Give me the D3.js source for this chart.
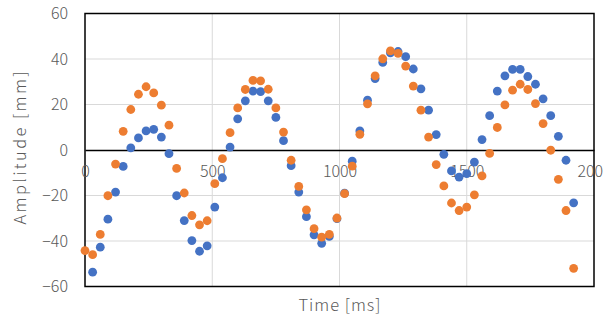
<!DOCTYPE html>
<html><head><meta charset="utf-8">
<script src="https://cdn.jsdelivr.net/npm/d3@7"></script>
<style>body{margin:0;background:#fff}svg{display:block}</style>
</head><body>
<script>
// Data
const timeStep = 30; // ms between samples
const seriesA = [null,-53.7,-42.7,-30.4,-18.5,-7.2,0.9,5.3,8.4,9.1,5.7,-1.6,-20.1,-31,-39.8,-44.5,-42.1,
 -25.1,-12.2,1.3,13.7,21.6,25.9,25.7,21.6,14.3,4.1,-6.9,-18.5,-29.3,-37.3,-41,-38.0,-30.2,-19.0,-4.9,
 8.4,21.9,31.4,38.5,42.7,43.3,41,35.6,26.9,17.5,6.8,-1.9,-9.2,-11.9,-10.4,-5.3,4.6,15.1,25.9,32.6,35.4,35.4,
 32.3,28.9,22.5,15.1,6.0,-4.5,-23.2];
const seriesB = [-44.2,-46,-37.1,-20.1,-6.2,8.2,17.8,24.5,27.8,25.1,19.7,10.9,-8.1,-18.9,-28.8,-32.9,-31.1,
 -14.8,-3.8,7.6,18.5,26.6,30.6,30.4,26.7,18.5,7.9,-4.5,-16,-26.3,-34.6,-38.3,-37.1,-29.9,-19.2,-7.1,
 6.9,20.3,32.6,40.1,43.6,42.5,36.9,28.1,17.5,5.7,-6.4,-15.8,-23.3,-26.6,-25.1,-19.7,-11.4,-1.5,9.9,19.8,26.3,28.9,
 26.6,20.4,11.6,-0.1,-12.9,-26.6,-52];
const xTicks = [0,500,1000,1500,2000];
const yTicks = [-60,-40,-20,0,20,40,60];
const seriesColors = ["#4472C4","#ED7D31"];
const xTitle = "Time [ms]", yTitle = "Amplitude [mm]";

const W = 615, H = 321;
const L = 85, R = 594, T = 13.5, B = 286.5;
const x = d3.scaleLinear().domain([0,2000]).range([L,R]);
const y = d3.scaleLinear().domain([-60,60]).range([B,T]);
const font = "'Noto Sans CJK JP','Noto Sans',sans-serif";
const textColor = "#595959";

const svg = d3.select("body").append("svg").attr("width",W).attr("height",H);
svg.append("defs").append("clipPath").attr("id","chartClip")
 .append("rect").attr("x",0).attr("y",0).attr("width",603).attr("height",H);

// gridlines
svg.append("g").selectAll("line").data(yTicks.filter(v=>v!==0&&Math.abs(v)!==60)).join("line")
 .attr("x1",L).attr("x2",R).attr("y1",d=>y(d)).attr("y2",d=>y(d))
 .attr("stroke","#d9d9d9").attr("stroke-width",1);
svg.append("g").selectAll("line").data(xTicks.filter(v=>v!==0&&v!==2000)).join("line")
 .attr("y1",T).attr("y2",B).attr("x1",d=>x(d)).attr("x2",d=>x(d))
 .attr("stroke","#d9d9d9").attr("stroke-width",1);

// border
svg.append("rect").attr("x",L).attr("y",T).attr("width",R-L).attr("height",B-T)
 .attr("fill","none").attr("stroke","#000").attr("stroke-width",1.5);

// zero axis
const xAxis = d3.axisBottom(x).tickValues(xTicks).tickFormat(d3.format("d")).tickSize(0).tickPadding(0);
const gx = svg.append("g").attr("clip-path","url(#chartClip)")
 .append("g").attr("transform",`translate(0,${y(0)})`).call(xAxis);
gx.select(".domain").attr("stroke","#000").attr("stroke-width",1.5);
gx.selectAll("text").attr("dy",null).attr("y",27).attr("fill",textColor)
 .style("font-family",font).style("font-size","16px").style("font-weight",300);

const yAxis = d3.axisLeft(y).tickValues(yTicks).tickSize(0).tickPadding(17);
const gy = svg.append("g").attr("transform",`translate(${L},0)`).call(yAxis);
gy.select(".domain").remove();
gy.selectAll("text").attr("fill",textColor).style("font-family",font)
 .style("font-size","16px").style("font-weight",300);

// points
[seriesA, seriesB].forEach((s,k)=>{
  svg.append("g").selectAll("circle")
   .data(s.map((v,i)=>({t:i*timeStep,v})).filter(d=>d.v!==null)).join("circle")
   .attr("cx",d=>x(d.t)).attr("cy",d=>y(d.v)).attr("r",4.4)
   .attr("fill",seriesColors[k]);
});

// titles
svg.append("text").attr("x",(L+R)/2).attr("y",310.5).attr("text-anchor","middle")
 .attr("textLength",82).attr("lengthAdjust","spacing")
 .attr("fill",textColor).style("font-family",font).style("font-size","16.5px").style("font-weight",300).text(xTitle);
svg.append("text").attr("transform",`translate(26,148) rotate(-90)`).attr("text-anchor","middle")
 .attr("textLength",153).attr("lengthAdjust","spacing")
 .attr("fill",textColor).style("font-family",font).style("font-size","16.5px").style("font-weight",300).text(yTitle);
</script>
</body></html>
